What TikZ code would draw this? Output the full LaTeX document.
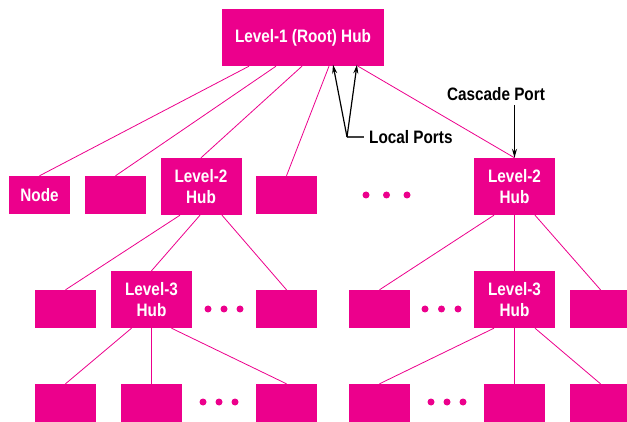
\documentclass[tikz,border=0pt]{standalone}
\usepackage{fontspec}
\setmainfont{Liberation Sans}[FakeStretch=0.85]
\usetikzlibrary{arrows.meta}
\definecolor{mag}{HTML}{EC008C}
\tikzset{
  box/.style={fill=mag, draw=none, inner sep=0pt, minimum width=61pt, minimum height=38pt,
    text=white, font=\fontsize{18}{21}\selectfont\bfseries, align=center},
  hub/.style={box, minimum width=81pt, minimum height=57pt},
  link/.style={draw=mag, line width=0.8pt},
  dot/.style={circle, fill=mag, inner sep=0pt, minimum size=7pt},
  callout/.style={font=\fontsize{18}{21}\selectfont\bfseries, inner sep=0pt},
  ptr/.style={draw=black, line width=1.2pt, -{Stealth[length=9pt,width=5pt]}}
}
\begin{document}
\begin{tikzpicture}[x=1pt,y=-1pt]
\useasboundingbox (0,0) rectangle (627,422);
% level 1
\node[hub, minimum width=162pt] (root) at (303,37.5) {Level-1 (Root) Hub};
% level 2 row
\node[box] (n1) at (39.5,195) {Node};
\node[box] (n2) at (115.5,195) {};
\node[hub] (h2a) at (201,186.5) {Level-2\\Hub};
\node[box] (n4) at (286.5,195) {};
\node[dot] (d1a) at (366,195) {};
\node[dot] (d1b) at (386.5,195) {};
\node[dot] (d1c) at (407,195) {};
\node[hub] (h2b) at (514.5,186.5) {Level-2\\Hub};
% level 3 row
\node[box] (a1) at (65.5,309) {};
\node[hub] (h3a) at (151.5,299.5) {Level-3\\Hub};
\node[dot] (d2a) at (208,309) {};
\node[dot] (d2b) at (224,309) {};
\node[dot] (d2c) at (240,309) {};
\node[box] (a3) at (286.5,309) {};
\node[box] (b1) at (379.5,309) {};
\node[dot] (d3a) at (425,309) {};
\node[dot] (d3b) at (441.5,309) {};
\node[dot] (d3c) at (458,309) {};
\node[hub] (h3b) at (514.5,299.5) {Level-3\\Hub};
\node[box] (b3) at (600.5,309) {};
% level 4 row
\node[box] (c1) at (65.5,403) {};
\node[box] (c2) at (151.5,403) {};
\node[dot] (d4a) at (203,402) {};
\node[dot] (d4b) at (219,402) {};
\node[dot] (d4c) at (235,402) {};
\node[box] (c3) at (286.5,403) {};
\node[box] (e1) at (379.5,403) {};
\node[dot] (d5a) at (431,402) {};
\node[dot] (d5b) at (447,402) {};
\node[dot] (d5c) at (463,402) {};
\node[box] (e2) at (514.5,403) {};
\node[box] (e3) at (600.5,403) {};
% links
\draw[link] ([xshift=-54pt]root.south) -- (n1.north);
\draw[link] ([xshift=-27pt]root.south) -- (n2.north);
\draw[link] ([xshift=-1pt]root.south) -- (h2a.north);
\draw[link] ([xshift=26pt]root.south) -- (n4.north);
\draw[link] ([xshift=55pt]root.south) -- (h2b.north);
\draw[link] ([xshift=-21pt]h2a.south) -- (a1.north);
\draw[link] ([xshift=-1pt]h2a.south) -- (h3a.north);
\draw[link] ([xshift=21pt]h2a.south) -- (a3.north);
\draw[link] ([xshift=-20.5pt]h2b.south) -- (b1.north);
\draw[link] (h2b.south) -- (h3b.north);
\draw[link] ([xshift=20.5pt]h2b.south) -- (b3.north);
\draw[link] ([xshift=-20pt]h3a.south) -- (c1.north);
\draw[link] (h3a.south) -- (c2.north);
\draw[link] ([xshift=20pt]h3a.south) -- (c3.north);
\draw[link] ([xshift=-20.5pt]h3b.south) -- (e1.north);
\draw[link] (h3b.south) -- (e2.north);
\draw[link] ([xshift=20.5pt]h3b.south) -- (e3.north);
% callouts
\coordinate (lp) at (347,137);
\node[callout, anchor=west] (lpl) at (369,137) {Local Ports};
\draw[draw=black!75, line width=1.2pt] (lp) -- ([xshift=-5pt]lpl.west);
\draw[ptr] (lp) -- ([xshift=30pt,yshift=1.5pt]root.south);
\draw[ptr] (lp) -- ([xshift=54pt,yshift=1.5pt]root.south);
\node[callout] (cp) at (496,94) {Cascade Port};
\coordinate (cps) at (514.5,105);
\draw[ptr] (cps) -- (h2b.north);
\end{tikzpicture}
\end{document}
